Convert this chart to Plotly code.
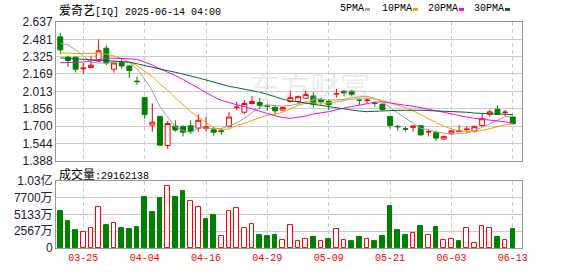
import plotly.graph_objects as go
import pandas as pd

# ---------------- data ----------------
dates = ["03-20", "03-21", "03-24", "03-25", "03-26", "03-27", "03-28", "03-31", "04-01", "04-02",
         "04-03", "04-04", "04-07", "04-08", "04-09", "04-10", "04-11", "04-14", "04-15", "04-16",
         "04-17", "04-21", "04-22", "04-23", "04-24", "04-25", "04-28", "04-29", "04-30", "05-01",
         "05-02", "05-05", "05-06", "05-07", "05-08", "05-09", "05-12", "05-13", "05-14", "05-15",
         "05-16", "05-19", "05-20", "05-21", "05-22", "05-23", "05-27", "05-28", "05-29", "05-30",
         "06-02", "06-03", "06-04", "06-05", "06-06", "06-09", "06-10", "06-11", "06-12", "06-13"]

opens = [2.503, 2.320, 2.320, 2.215, 2.227, 2.285, 2.401, 2.212, 2.273, 2.241,
         2.105, 1.956, 1.709, 1.787, 1.525, 1.700, 1.694, 1.702, 1.681, 1.679,
         1.666, 1.657, 1.694, 1.866, 1.825, 1.903, 1.912, 1.880, 1.868, 1.845,
         1.921, 1.921, 1.950, 1.971, 1.941, 1.921, 1.988, 2.014, 2.014, 1.935,
         1.930, 1.906, 1.897, 1.787, 1.697, 1.675, 1.688, 1.703, 1.647, 1.641,
         1.583, 1.636, 1.650, 1.669, 1.650, 1.705, 1.805, 1.851, 1.822, 1.781]
highs = [2.538, 2.334, 2.325, 2.268, 2.334, 2.480, 2.427, 2.270, 2.311, 2.245,
         2.145, 1.962, 1.903, 1.790, 1.744, 1.752, 1.709, 1.752, 1.805, 1.781,
         1.694, 1.679, 1.826, 1.921, 1.932, 1.970, 1.954, 1.903, 1.884, 1.870,
         2.020, 1.975, 2.020, 2.008, 1.950, 1.941, 2.034, 2.023, 2.028, 1.947,
         1.955, 1.921, 1.903, 1.790, 1.709, 1.694, 1.709, 1.705, 1.665, 1.659,
         1.610, 1.660, 1.709, 1.700, 1.705, 1.810, 1.846, 1.886, 1.845, 1.784]
lows = [2.349, 2.233, 2.183, 2.172, 2.223, 2.276, 2.247, 2.181, 2.218, 2.134,
        2.072, 1.766, 1.650, 1.519, 1.495, 1.650, 1.606, 1.630, 1.650, 1.651,
        1.614, 1.621, 1.688, 1.842, 1.805, 1.897, 1.854, 1.837, 1.805, 1.834,
        1.912, 1.912, 1.950, 1.867, 1.892, 1.846, 1.956, 1.967, 1.967, 1.889,
        1.906, 1.875, 1.837, 1.679, 1.659, 1.650, 1.650, 1.612, 1.606, 1.564,
        1.580, 1.634, 1.648, 1.641, 1.644, 1.700, 1.781, 1.799, 1.787, 1.714]
closes = [2.386, 2.290, 2.212, 2.222, 2.247, 2.378, 2.268, 2.268, 2.241, 2.200,
          2.100, 1.805, 1.735, 1.528, 1.723, 1.665, 1.645, 1.650, 1.752, 1.694,
          1.645, 1.650, 1.781, 1.870, 1.903, 1.921, 1.887, 1.877, 1.837, 1.868,
          1.956, 1.965, 1.985, 1.897, 1.918, 1.892, 1.991, 1.999, 1.985, 1.932,
          1.934, 1.903, 1.849, 1.706, 1.694, 1.672, 1.700, 1.621, 1.650, 1.592,
          1.607, 1.657, 1.656, 1.672, 1.694, 1.766, 1.828, 1.805, 1.825, 1.721]
# closes of the 29 sessions before the window (estimated, used only for the moving averages)
prior_closes = [2.400, 2.360, 2.330, 2.360, 2.450, 2.400, 2.390, 2.380, 2.396, 2.554,
                2.290, 2.172, 2.142, 2.067, 2.078, 2.068, 2.248, 2.241, 2.320, 2.168,
                2.340, 2.242, 2.222, 2.247, 2.328, 2.365, 2.432, 2.482, 2.562]
# volume in 万 shares
volumes = [5654, 4166, 2678, 2480, 3075, 6349, 3571, 3819, 3125, 2976,
           3274, 7738, 5506, 7589, 9475, 7886, 8779, 7242, 6349, 4464,
           5059, 1885, 5605, 6101, 3075, 3670, 1934, 1786, 1934, 1290,
           3522, 992, 1439, 1637, 1042, 1339, 2927, 1141, 1042, 1637,
           1439, 1042, 1786, 6398, 2678, 1934, 2232, 3422, 1934, 3274,
           1141, 1439, 1042, 3125, 694, 3422, 3125, 1637, 1141, 2916]

price_ticks = [1.388, 1.544, 1.700, 1.856, 2.013, 2.169, 2.325, 2.481, 2.637]
vol_ticks = [0, 2567, 5133, 7700, 10267]
vol_tick_text = ["0", "2567万", "5133万", "7700万", "1.03亿"]
date_ticks = ["03-25", "04-04", "04-16", "04-29", "05-09", "05-21", "06-03", "06-13"]
ma_periods = [5, 10, 20, 30]
ma_names = ["5PMA", "10PMA", "20PMA", "30PMA"]
title_name = "爱奇艺"
title_rest = "[IQ] 2025-06-14 04:00"
last_volume = "29162138"

# ---------------- styles ----------------
RED = "#ff0000"
GREEN = "#008000"
MA_COLORS = ["#a0a0a0", "#f5a000", "#ff00ff", "#006633"]
GRID = "#cccccc"
FRAME = "#999999"
MONO = "Liberation Mono, DejaVu Sans Mono, monospace"
SANS = "Liberation Sans, Arial, Noto Sans CJK SC, sans-serif"
CJK = "Noto Sans CJK SC"

L, R, T, B, W, H = 56, 56, 22, 21, 578, 276
PW, PH = W - L - R, H - T - B


def px_x(px):
    return (px - L) / PW


def px_y(py):
    return (H - B - py) / PH


x = list(range(len(dates)))
xr = [-0.56, 60.2]
tick_pos = [dates.index(d) for d in date_ticks]

all_closes = pd.Series(prior_closes + closes)
mas = [all_closes.rolling(n).mean().iloc[-len(closes):].tolist() for n in ma_periods]

prev_close = [prior_closes[-1]] + closes[:-1]
vol_up = [c >= p for c, p in zip(closes, prev_close)]

fig = go.Figure()

fig.add_trace(go.Candlestick(
    x=x, open=opens, high=highs, low=lows, close=closes,
    increasing=dict(line=dict(color=RED, width=1), fillcolor="#ffffff"),
    decreasing=dict(line=dict(color=GREEN, width=1), fillcolor=GREEN),
    whiskerwidth=0, xaxis="x", yaxis="y", showlegend=False, hoverinfo="skip"))

for ma, col in zip(mas, MA_COLORS):
    fig.add_trace(go.Scatter(x=x, y=ma, mode="lines", line=dict(color=col, width=1),
                             xaxis="x", yaxis="y", showlegend=False, hoverinfo="skip"))

fig.add_trace(go.Bar(
    x=x, y=volumes, width=0.6,
    marker=dict(color=["#ffffff" if u else GREEN for u in vol_up],
                line=dict(color=[RED if u else GREEN for u in vol_up], width=1)),
    xaxis="x2", yaxis="y2", showlegend=False, hoverinfo="skip"))

axis_common = dict(showline=True, mirror=True, linecolor=FRAME, linewidth=1,
                   zeroline=False, fixedrange=True, ticks="")

fig.update_layout(
    width=W, height=H, autosize=False,
    margin=dict(l=L, r=R, t=T, b=B, pad=0),
    paper_bgcolor="#ffffff", plot_bgcolor="#ffffff",
    showlegend=False, boxgap=0.2, boxgroupgap=0.2, bargap=0,
    xaxis=dict(domain=[0, 1], anchor="y", range=xr, tickvals=tick_pos, showticklabels=False,
               showgrid=True, gridcolor=GRID, griddash="4px,3px", gridwidth=1,
               rangeslider=dict(visible=False), **axis_common),
    yaxis=dict(domain=[px_y(165), 1], anchor="x", range=[price_ticks[0], price_ticks[-1]],
               tickvals=price_ticks, ticktext=[f"{v:.3f}" for v in price_ticks],
               tickfont=dict(family=SANS, size=12, color="#222233"),
               showgrid=True, gridcolor=GRID, gridwidth=1, **axis_common),
    xaxis2=dict(domain=[0, 1], anchor="y2", range=xr, tickvals=tick_pos, ticktext=date_ticks,
                tickfont=dict(family=MONO, size=10, color=RED),
                showgrid=True, gridcolor=GRID, griddash="4px,3px", gridwidth=1, **axis_common),
    yaxis2=dict(domain=[0, px_y(186)], anchor="x2", range=[vol_ticks[0], vol_ticks[-1]],
                tickvals=vol_ticks, ticktext=vol_tick_text,
                tickfont=dict(family=SANS, size=12, color="#222233"),
                showgrid=True, gridcolor=GRID, gridwidth=1, **axis_common),
)

annotations = [
    dict(x=px_x(57), y=px_y(9), xref="paper", yref="paper", xanchor="left", yanchor="middle",
         showarrow=False, font=dict(family=MONO, size=10, color="#000000"),
         text=f"<span style=\"font-family:{CJK};font-size:12px\">{title_name}</span>{title_rest}"),
    dict(x=px_x(57), y=px_y(178), xref="paper", yref="paper", xanchor="left", yanchor="middle",
         showarrow=False, font=dict(family=MONO, size=10, color="#000000"),
         text=f"<span style=\"font-family:{CJK};font-size:12px\">成交量</span>:{last_volume}"),
    dict(x=px_x(310), y=px_y(87), xref="paper", yref="paper", xanchor="center", yanchor="middle",
         showarrow=False, font=dict(family=CJK, size=30, color="rgba(200,200,200,0.35)"),
         text="东方财富"),
]
legend_x = [338, 380, 426, 472]
square_x = [365, 413, 459, 505]
shapes = []
for name, lx, sx, col in zip(ma_names, legend_x, square_x, MA_COLORS):
    annotations.append(dict(x=px_x(lx), y=px_y(8.5), xref="paper", yref="paper",
                            xanchor="left", yanchor="middle", showarrow=False,
                            font=dict(family=MONO, size=10, color="#000000"), text=name))
    shapes.append(dict(type="rect", xref="paper", yref="paper",
                       x0=px_x(sx), x1=px_x(sx + 5), y0=px_y(10.5), y1=px_y(7.5),
                       fillcolor=col, line=dict(width=0)))
fig.update_layout(annotations=annotations, shapes=shapes)

fig.write_html("out.html")
